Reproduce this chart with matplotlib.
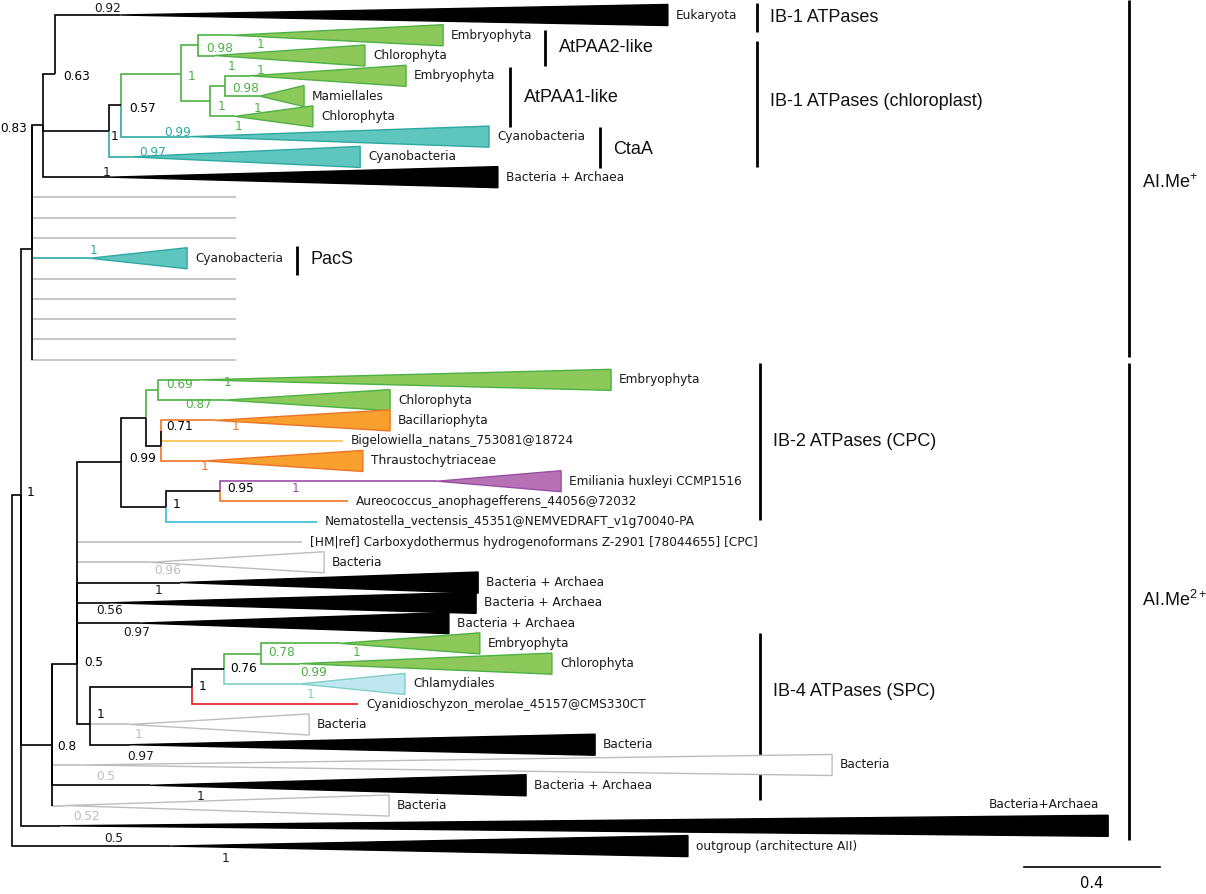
import matplotlib
matplotlib.use("Agg")
import matplotlib.pyplot as plt
from matplotlib.patches import Polygon

plt.rcParams['mathtext.fontset'] = 'custom'
plt.rcParams['mathtext.rm'] = 'Liberation Sans'

# ==========================================
# tree data (depth in subst./site, row = leaf slot from the top)
# ==========================================
node_names = ["root", "A", "B", "P1", "P2", "P3", "P4", "P5", "P6", "P7", "P8",
              "D", "E", "F", "F1", "F1a", "F1b", "F1c", "F2", "F2a", "G", "H", "H1", "H2"]
node_parents = [None, "root", "A", "B", "P1", "P1", "P3", "P4", "P5", "P5", "P7",
                "A", "D", "E", "F", "F1", "F1", "F1b", "F", "F2", "E", "G", "H", "H1"]
node_depths = [0.0, 0.026, 0.059, 0.091, 0.126, 0.285, 0.321, 0.497, 0.547, 0.582, 0.626,
               0.118, 0.191, 0.321, 0.394, 0.429, 0.438, 0.439, 0.453, 0.612, 0.229, 0.529, 0.624, 0.732]
node_rows = [32.0, 23.7, 11.53, 5.43, 2.9, 5.72, 4.45, 2.9, 1.5, 4.25, 3.5,
             36.0, 32.0, 22.05, 19.88, 18.5, 21.25, 20.5, 24.25, 23.5, 35.0, 33.13, 32.25, 31.5]
node_colors = ["k", "k", "k", "k", "k", "k", "k", "green", "green", "green", "green",
               "k", "k", "k", "k", "green", "k", "k", "k", "k", "k", "k", "k", "green"]
node_support = ["", "1", "", "0.83", "0.63", "1", "0.57", "1", "0.98", "1", "0.98",
                "0.8", "0.5", "0.99", "", "0.69", "", "0.71", "1", "0.95", "1", "1", "0.76", "0.78"]

leaf_labels = [
    "Eukaryota", "Embryophyta", "Chlorophyta", "Embryophyta", "Mamiellales", "Chlorophyta",
    "Cyanobacteria", "Cyanobacteria", "Bacteria + Archaea", "", "", "", "Cyanobacteria",
    "", "", "", "", "",
    "Embryophyta", "Chlorophyta", "Bacillariophyta", "Bigelowiella_natans_753081@18724",
    "Thraustochytriaceae", "Emiliania huxleyi CCMP1516", "Aureococcus_anophagefferens_44056@72032",
    "Nematostella_vectensis_45351@NEMVEDRAFT_v1g70040-PA",
    "[HM|ref] Carboxydothermus hydrogenoformans Z-2901 [78044655] [CPC]",
    "Bacteria", "Bacteria + Archaea", "Bacteria + Archaea", "Bacteria + Archaea",
    "Embryophyta", "Chlorophyta", "Chlamydiales", "Cyanidioschyzon_merolae_45157@CMS330CT",
    "Bacteria", "Bacteria", "Bacteria", "Bacteria + Archaea", "Bacteria", "Bacteria+Archaea",
    "outgroup (architecture AII)"]
leaf_parents = ["P2", "P6", "P6", "P8", "P8", "P7", "P4", "P3", "P1",
                "B", "B", "B", "B", "B", "B", "B", "B", "B",
                "F1a", "F1a", "F1c", "F1c", "F1b", "F2a", "F2a", "F2", "E", "E", "E", "E", "E",
                "H2", "H2", "H1", "H", "G", "G", "D", "D", "D", "A", "root"]
leaf_colors = ["k", "green", "green", "green", "green", "green", "cyan", "cyan", "k",
               "grey", "grey", "grey", "cyan", "grey", "grey", "grey", "grey", "grey",
               "green", "green", "orange", "bigel", "orange", "purple", "orange", "blue", "grey",
               "grey", "k", "k", "k", "green", "green", "chlam", "red", "grey", "k", "grey", "k",
               "grey", "k", "k"]
# depth where the collapsed-clade triangle starts (None = single sequence)
leaf_apex = [0.318, 0.647, 0.597, 0.700, 0.729, 0.656, 0.524, 0.347, 0.288,
             None, None, None, 0.229, None, None, None, None, None,
             0.553, 0.626, 0.597, None, 0.568, 1.250, None, None, None,
             0.406, 0.494, 0.288, 0.376, 0.965, 0.847, 0.847, None,
             0.347, 0.347, 0.200, 0.406, 0.156, 0.141, 0.465]
leaf_tips = [1.929, 1.268, 1.038, 1.159, 0.859, 0.885, 1.403, 1.024, 1.429,
             0.659, 0.659, 0.659, 0.515, 0.659, 0.659, 0.659, 0.659, 0.659,
             1.762, 1.112, 1.112, 0.974, 1.032, 1.615, 0.988, 0.897, 0.853,
             0.918, 1.371, 1.365, 1.285, 1.376, 1.588, 1.156, 1.018,
             0.874, 1.715, 2.412, 1.512, 1.109, 3.224, 1.988]
leaf_support = ["0.92", "1", "1", "1", "1", "1", "0.99", "0.97", "1",
                "", "", "", "1", "", "", "", "", "",
                "1", "0.87", "1", "", "1", "1", "", "", "",
                "0.96", "1", "0.56", "0.97", "1", "0.99", "1", "",
                "1", "0.97", "0.5", "1", "0.52", "0.5", "1"]

# ==========================================
# layout / style
# ==========================================
X0, XS = 12, 340          # px of root, px per unit
Y0, YS = 15, 20.27        # px of row 0, px per row
TRI_H = 0.52              # half height of a collapsed clade (rows)

line_col = {"k": "#000000", "green": "#4db143", "cyan": "#2ea8a2", "orange": "#ee7425",
            "bigel": "#fdbd48", "purple": "#9b4ea5", "blue": "#35bedb", "grey": "#bdbdbd",
            "red": "#e8191e", "chlam": "#80cfc6"}
fill_col = {"k": "#000000", "green": "#8cc85a", "cyan": "#5ec5bf", "orange": "#f8a02e",
            "purple": "#b672b4", "grey": "#ffffff", "chlam": "#c0e7ef"}

# nodes whose whole vertical is drawn black
black_vertical = ["B", "D"]

# support label positions (px, centre)
node_lab_xy = {"A": (31, 493), "P1": (14, 129), "P2": (77, 77), "P3": (115, 136),
               "P4": (143, 109), "P5": (192, 76), "P6": (220, 48), "P7": (222, 106),
               "P8": (246, 89), "D": (67, 747), "E": (94, 663), "F": (143, 459),
               "F1a": (180, 385), "F1c": (180, 426), "F2": (177, 504), "F2a": (241, 488),
               "G": (101, 714), "H": (203, 686), "H1": (244, 669), "H2": (282, 653)}
leaf_lab_xy = {0: (108, 8), 1: (261, 45), 2: (232, 66), 3: (261, 71), 4: (258, 108),
               5: (239, 127), 6: (178, 132), 7: (153, 152), 8: (107, 173), 12: (94, 251),
               18: (228, 382), 19: (199, 405), 20: (236, 426), 22: (205, 467), 23: (296, 488),
               27: (168, 571), 28: (159, 591), 29: (110, 611), 30: (137, 632), 31: (357, 652),
               32: (314, 672), 33: (311, 695), 35: (139, 735), 36: (141, 756), 37: (106, 777),
               38: (201, 797), 39: (87, 817), 40: (114, 838), 41: (226, 859)}

groups = [("IB-1 ATPases", 757, 3, 32, 770, 17),
          ("AtPAA2-like", 545, 30, 66, 559, 48),
          ("AtPAA1-like", 510, 67, 127, 524, 97),
          ("CtaA", 600, 127, 168, 613, 150),
          ("IB-1 ATPases (chloroplast)", 757, 41, 167, 770, 102),
          ("PacS", 297, 246, 275, 310, 260),
          ("IB-2 ATPases (CPC)", 760, 363, 520, 773, 441),
          ("IB-4 ATPases (SPC)", 760, 633, 800, 773, 691),
          ("AI.Me$^{+}$", 1129, 0, 357, 1142, 183),
          ("AI.Me$^{2+}$", 1129, 363, 840, 1142, 600)]


def X(d):
    return X0 + XS * d


def Y(r):
    return Y0 + YS * r


fig = plt.figure(figsize=(12.06, 8.94), dpi=100)
ax = fig.add_axes([0, 0, 1, 1])
ax.set_xlim(0, 1206)
ax.set_ylim(894, 0)
ax.axis('off')

pos = {n: (d, r) for n, d, r in zip(node_names, node_depths, node_rows)}

# branches: (parent x, parent y) -> (parent x, child y) -> (child start, child y)
branches = []
child_rows = {n: [] for n in node_names}
for n, p, c in zip(node_names, node_parents, node_colors):
    if p is None:
        continue
    pd, pr = pos[p]
    d, r = pos[n]
    child_rows[p].append(r)
    branches.append((c, [X(pd), X(pd), X(d)], [Y(pr), Y(r), Y(r)]))
for i, (p, c) in enumerate(zip(leaf_parents, leaf_colors)):
    pd, pr = pos[p]
    child_rows[p].append(i)
    end = leaf_apex[i] if leaf_apex[i] is not None else leaf_tips[i]
    branches.append((c, [X(pd), X(pd), X(end)], [Y(pr), Y(i), Y(i)]))

# coloured first, black on top
for c, xs, ys in sorted(branches, key=lambda b: b[0] == "k"):
    ax.plot(xs, ys, color=line_col[c], lw=1.2, solid_joinstyle='miter',
            solid_capstyle='butt', zorder=2 if c == "k" else 1)

for n in black_vertical:
    d, r = pos[n]
    rows = child_rows[n]
    ax.plot([X(d), X(d)], [Y(min(rows)), Y(max(rows))], color='black', lw=1.2,
            solid_capstyle='butt', zorder=2)

# collapsed clades
for i in range(len(leaf_labels)):
    if leaf_apex[i] is None:
        continue
    c = leaf_colors[i]
    tri = Polygon([(X(leaf_apex[i]), Y(i)), (X(leaf_tips[i]), Y(i - TRI_H)),
                   (X(leaf_tips[i]), Y(i + TRI_H))], closed=True,
                  facecolor=fill_col[c], edgecolor=line_col[c], lw=1.0, zorder=3)
    ax.add_patch(tri)

# leaf names
for i, lab in enumerate(leaf_labels):
    if not lab:
        continue
    if i == 40:
        ax.text(1099, 805, lab, fontsize=8.7, family='DejaVu Sans', color='#1a1a1a',
                ha='right', va='center')
        continue
    ax.text(X(leaf_tips[i]) + 8, Y(i), lab, fontsize=8.7, family='DejaVu Sans',
            color='#1a1a1a', ha='left', va='center')

# support values
for n, s, c in zip(node_names, node_support, node_colors):
    if s and n in node_lab_xy:
        x, y = node_lab_xy[n]
        ax.text(x, y, s, fontsize=8.7, family='DejaVu Sans', color=line_col[c],
                ha='center', va='center')
for i, s in enumerate(leaf_support):
    if s and i in leaf_lab_xy:
        x, y = leaf_lab_xy[i]
        c = leaf_colors[i]
        ax.text(x, y, s, fontsize=8.7, family='DejaVu Sans',
                color='#1a1a1a' if c == "k" else line_col[c], ha='center', va='center')

# clade brackets
for lab, bx, y0, y1, tx, ty in groups:
    ax.plot([bx, bx], [y0, y1], color='black', lw=2.0, solid_capstyle='butt')
    ax.text(tx, ty, lab, fontsize=13, family='Liberation Sans', color='#111111',
            ha='left', va='center')

# scale bar
ax.plot([X(2.976), X(3.376)], [867, 867], color='black', lw=1.2)
ax.text((X(2.976) + X(3.376)) / 2, 884, "0.4", fontsize=10.5, family='DejaVu Sans',
        ha='center', va='center')

fig.savefig("out.png", dpi=100)
